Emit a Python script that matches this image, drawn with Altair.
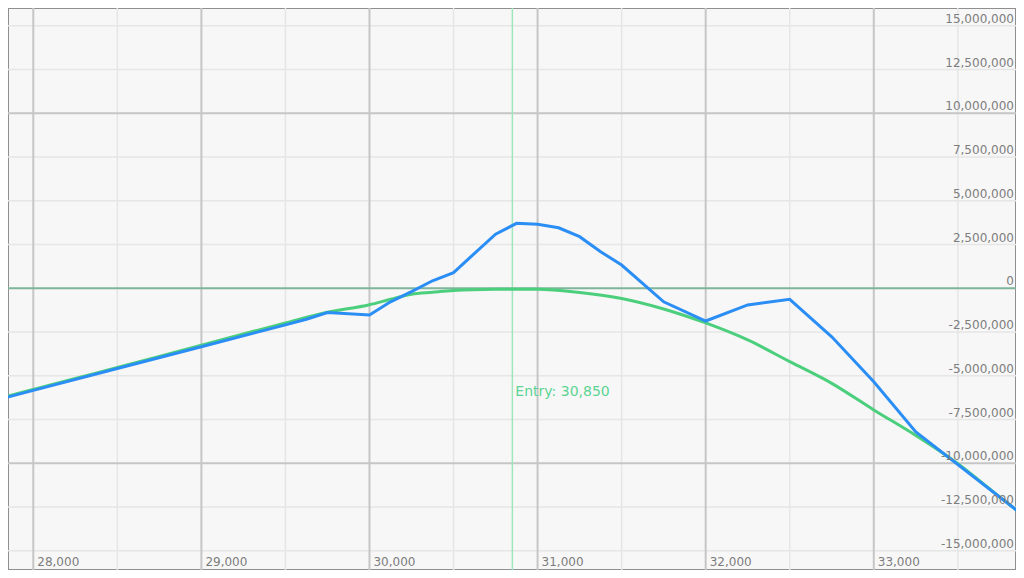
import altair as alt
import pandas as pd

# ---------------- data ----------------
# Blue line (P&L at expiry), millions
blue_x = [27750, 28000, 28500, 29000, 29500, 29625, 29750, 30000, 30125, 30250,
          30375, 30500, 30625, 30750, 30875, 31000, 31125, 31250, 31375, 31500,
          31750, 32000, 32250, 32500, 32750, 33000, 33250, 33950]
blue_y = [-6.46, -5.83, -4.58, -3.34, -2.09, -1.77, -1.39, -1.53, -0.77, -0.19,
          0.43, 0.89, 2.00, 3.09, 3.71, 3.66, 3.46, 2.95, 2.09, 1.33,
          -0.77, -1.87, -0.95, -0.63, -2.77, -5.34, -8.21, -13.43]

# Green curve (current theoretical P&L), millions
green_x = [27750, 28000, 28250, 28500, 28750, 29000, 29250, 29500, 29750, 30000,
           30125, 30250, 30375, 30500, 30750, 31000, 31250, 31500, 31750, 32000,
           32250, 32500, 32750, 33000, 33250, 33500, 33750, 33950]
green_y = [-6.41, -5.78, -5.15, -4.53, -3.90, -3.25, -2.61, -1.98, -1.37, -0.94,
           -0.63, -0.34, -0.23, -0.13, -0.06, -0.05, -0.24, -0.58, -1.18, -1.98,
           -2.95, -4.19, -5.43, -6.95, -8.41, -10.02, -11.93, -13.42]

entry_price = 30850

x_major = [28000, 29000, 30000, 31000, 32000, 33000]
x_minor = [28500, 29500, 30500, 31500, 32500, 33500]
y_major = [-10000000, 10000000]
y_minor = [-15000000, -12500000, -7500000, -5000000, -2500000,
           2500000, 5000000, 7500000, 12500000, 15000000]
y_labels = [-15000000, -12500000, -10000000, -7500000, -5000000, -2500000, 0,
            2500000, 5000000, 7500000, 10000000, 12500000, 15000000]
x_labels = [28000, 29000, 30000, 31000, 32000, 33000]

# ---------------- tables ----------------
blue_df = pd.DataFrame({"x": blue_x, "y": [v * 1e6 for v in blue_y]})
green_df = pd.DataFrame({"x": green_x, "y": [v * 1e6 for v in green_y]})
xmaj_df = pd.DataFrame({"v": x_major})
xmin_df = pd.DataFrame({"v": x_minor})
ymaj_df = pd.DataFrame({"v": y_major})
ymin_df = pd.DataFrame({"v": y_minor})
ylab_df = pd.DataFrame({"v": y_labels, "label": [f"{v:,}" for v in y_labels]})
xlab_df = pd.DataFrame({"v": x_labels, "label": [f"{v:,}" for v in x_labels]})
entry_df = pd.DataFrame({"v": [entry_price], "label": [f"Entry: {entry_price:,}"]})
zero_df = pd.DataFrame({"v": [0]})

W, H = 1008, 562
xs = alt.Scale(domain=[27849.6, 33846.0], nice=False, zero=False)
ys = alt.Scale(domain=[-16097000, 16017000], nice=False, zero=False)
FONT = "DejaVu Sans"

def X(f):
    return alt.X(f, type="quantitative", scale=xs, axis=None)

def Y(f):
    return alt.Y(f, type="quantitative", scale=ys, axis=None)

x_minor_rules = alt.Chart(xmin_df).mark_rule(color="#e6e6e6", strokeWidth=1.5).encode(x=X("v"))
y_minor_rules = alt.Chart(ymin_df).mark_rule(color="#e6e6e6", strokeWidth=1.5).encode(y=Y("v"))
x_major_rules = alt.Chart(xmaj_df).mark_rule(color="#c6c6c6", strokeWidth=2).encode(x=X("v"))
y_major_rules = alt.Chart(ymaj_df).mark_rule(color="#c6c6c6", strokeWidth=2).encode(y=Y("v"))

entry_rule = alt.Chart(entry_df).mark_rule(color="#9fe6be", strokeWidth=1.5).encode(x=X("v"))
zero_rule = alt.Chart(zero_df).mark_rule(color="#7fb59b", strokeWidth=2).encode(y=Y("v"))

green_line = alt.Chart(green_df).mark_line(
    color="#4ccf7d", strokeWidth=3, clip=True, interpolate="monotone"
).encode(x=X("x"), y=Y("y"))
blue_line = alt.Chart(blue_df).mark_line(color="#2b8ef5", strokeWidth=3, clip=True).encode(
    x=X("x"), y=Y("y"))

y_text = alt.Chart(ylab_df).mark_text(
    align="right", baseline="alphabetic", dy=-3, font=FONT, fontSize=12, color="#7d7d7d"
).encode(x=alt.value(W - 2), y=Y("v"), text="label:N")

x_text = alt.Chart(xlab_df).mark_text(
    align="left", baseline="alphabetic", dx=4, font=FONT, fontSize=12, color="#7d7d7d"
).encode(x=X("v"), y=alt.value(H - 4), text="label:N")

entry_text = alt.Chart(entry_df).mark_text(
    align="left", baseline="alphabetic", dx=3, font=FONT, fontSize=14, color="#5cd493"
).encode(x=X("v"), y=alt.value(388), text="label:N")

chart = alt.layer(
    x_minor_rules, y_minor_rules, x_major_rules, y_major_rules,
    entry_rule, zero_rule, green_line, blue_line,
    y_text, x_text, entry_text,
).properties(
    width=W, height=H, padding=0,
    autosize=alt.AutoSizeParams(type="none"),
    background="#f7f7f7",
).configure_view(fill="#f7f7f7", stroke="#8f8f8f", strokeWidth=2)

chart.save("out.html", embed_options={"renderer": "svg", "actions": False})
